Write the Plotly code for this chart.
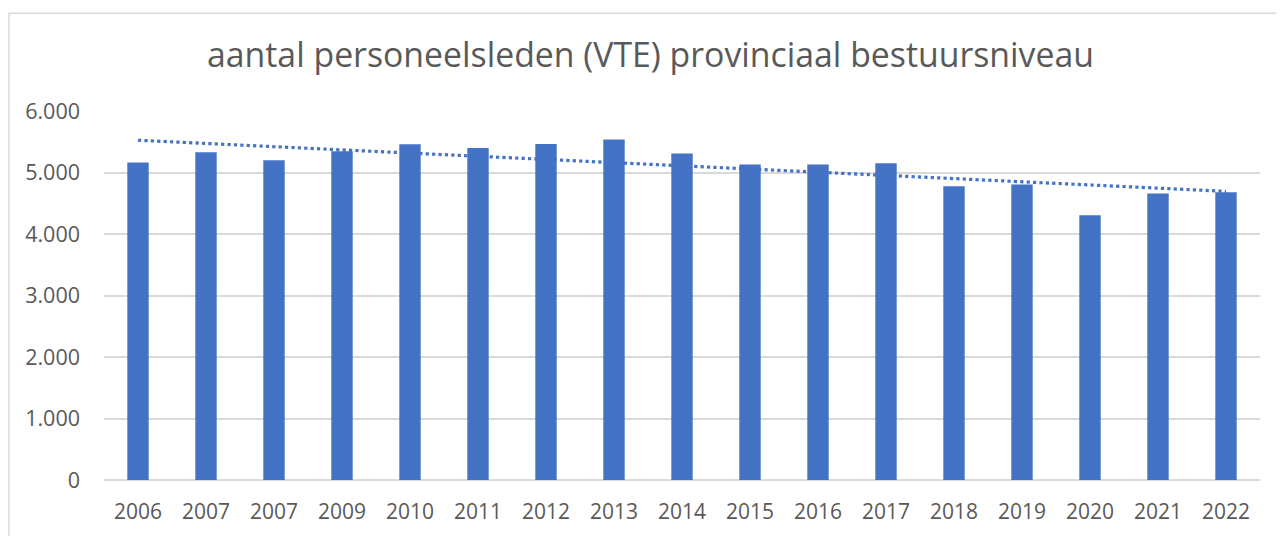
import numpy as np
import plotly.graph_objects as go

# Data
year_labels = ["2006", "2007", "2007", "2009", "2010", "2011", "2012", "2013",
               "2014", "2015", "2016", "2017", "2018", "2019", "2020", "2021", "2022"]
vte_values = [5163, 5330, 5200, 5346, 5460, 5400, 5465, 5536,
              5308, 5130, 5130, 5151, 4778, 4805, 4306, 4658, 4680]
y_ticks = [0, 1000, 2000, 3000, 4000, 5000, 6000]
title_text = "aantal personeelsleden (VTE) provinciaal bestuursniveau"

positions = list(range(len(year_labels)))
slope, intercept = np.polyfit(positions, vte_values, 1)
trend_values = [slope * p + intercept for p in positions]

OFF = 8  # page body margin
W, H = 1284 - OFF, 536 - OFF
ML, MT = 104 - OFF, 111 - OFF
MR = W - (1260 - OFF)
MB = H - (480.5 - OFF)
pw, ph = W - ML - MR, H - MT - MB

BLUE = "#4472C4"
GREY = "#595959"
FONT = "Open Sans"

fig = go.Figure()
fig.add_trace(go.Bar(x=positions, y=vte_values, marker=dict(color=BLUE, line=dict(width=0)),
                     hoverinfo="y", showlegend=False))
fig.add_trace(go.Scatter(x=positions, y=trend_values, mode="lines",
                         line=dict(color=BLUE, width=3.2, dash="dot"),
                         hoverinfo="skip", showlegend=False))

# chart border (light grey frame, extends past right/bottom edges)
fig.add_shape(type="rect", xref="paper", yref="paper",
              x0=(9 - OFF - ML) / pw, x1=(W + 10 - ML) / pw,
              y0=-(MB + 10) / ph, y1=1 + (MT - (13 - OFF)) / ph,
              line=dict(color="#D9D9D9", width=1.5), fillcolor="rgba(0,0,0,0)", layer="below")

fig.update_layout(
    width=W, height=H,
    margin=dict(l=ML, r=MR, t=MT, b=MB, pad=0),
    paper_bgcolor="white", plot_bgcolor="white",
    separators=",.",
    bargap=0.685,
    title=dict(text=title_text, x=(650.5 - OFF) / W, xref="container", xanchor="center",
               y=1 - (55 - OFF) / H, yanchor="middle",
               font=dict(family=FONT, size=33.8, color=GREY)),
    font=dict(family=FONT, color=GREY),
    xaxis=dict(tickmode="array", tickvals=positions, ticktext=year_labels,
               range=[-0.5, len(positions) - 0.5], showgrid=False, zeroline=False,
               showline=False, ticks="", ticklabelstandoff=17,
               tickfont=dict(family=FONT, size=21, color=GREY)),
    yaxis=dict(range=[0, 6000], tickvals=y_ticks, tickformat=",d",
               showgrid=True, gridcolor="#D9D9D9", gridwidth=1.5,
               zeroline=True, zerolinecolor="#D9D9D9", zerolinewidth=1.5,
               showline=False, ticks="", ticklabelstandoff=23,
               tickfont=dict(family=FONT, size=21.5, color=GREY)),
)

fig.write_html("out.html")
